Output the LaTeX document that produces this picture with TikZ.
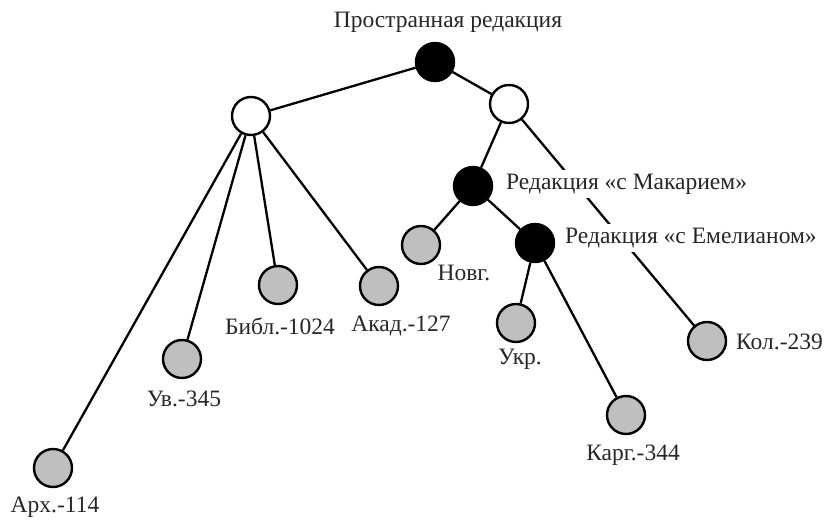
\documentclass[tikz,border=0pt]{standalone}
\usepackage{fontspec}
\setmainfont{Liberation Serif}
\begin{document}
\begin{tikzpicture}[x=1pt,y=-1pt,
  vert/.style={circle,draw=black,line width=2.4pt,minimum size=38pt,inner sep=0pt},
  blk/.style={vert,fill=black},
  wht/.style={vert,fill=white},
  gry/.style={vert,fill=black!25},
  lbl/.style={font=\fontsize{23.5}{26}\selectfont,text=black!85,inner sep=1pt},
  lblw/.style={lbl,fill=white,inner sep=4pt},
  edge/.style={line width=2.3pt}]
\useasboundingbox (0,0) rectangle (826,519);
% vertices
\node[blk] (root) at (435,62) {};
\node[wht] (wl) at (251,116) {};
\node[wht] (wr) at (509,104) {};
\node[blk] (mak) at (473,186) {};
\node[blk] (eme) at (535,243) {};
\node[gry] (nov) at (421,245) {};
\node[gry] (ukr) at (516,323) {};
\node[gry] (kar) at (626,415) {};
\node[gry] (kol) at (707,341) {};
\node[gry] (bib) at (278,285) {};
\node[gry] (aka) at (379,286) {};
\node[gry] (uv) at (182,359) {};
\node[gry] (arx) at (53,468) {};
% edges
\draw[edge] (root) -- (wl);
\draw[edge] (root) -- (wr);
\draw[edge] (wr) -- (mak);
\draw[edge] (wr) -- (kol);
\draw[edge] (mak) -- (nov);
\draw[edge] (mak) -- (eme);
\draw[edge] (eme) -- (ukr);
\draw[edge] (eme) -- (kar);
\draw[edge] (wl) -- (arx);
\draw[edge] (wl) -- (uv);
\draw[edge] (wl) -- (bib);
\draw[edge] (wl) -- (aka);
% labels
\node[lbl] (troot) at (448,22) {Пространная редакция};
\node[lblw,anchor=west] (tmak) at (502,184) {Редакция «с Макарием»};
\node[lblw,anchor=west] (teme) at (561,238) {Редакция «с Емелианом»};
\node[lbl] (tnov) at (464,273) {Новг.};
\node[lbl] (tukr) at (520,359) {Укр.};
\node[lbl] (tkar) at (633,455) {Карг.-344};
\node[lbl,anchor=west] (tkol) at (735,342) {Кол.-239};
\node[lbl] (tbib) at (280,326) {Библ.-1024};
\node[lbl] (taka) at (401,326) {Акад.-127};
\node[lbl] (tuv) at (184,399) {Ув.-345};
\node[lbl] (tarx) at (55,507) {Арх.-114};
\end{tikzpicture}
\end{document}
